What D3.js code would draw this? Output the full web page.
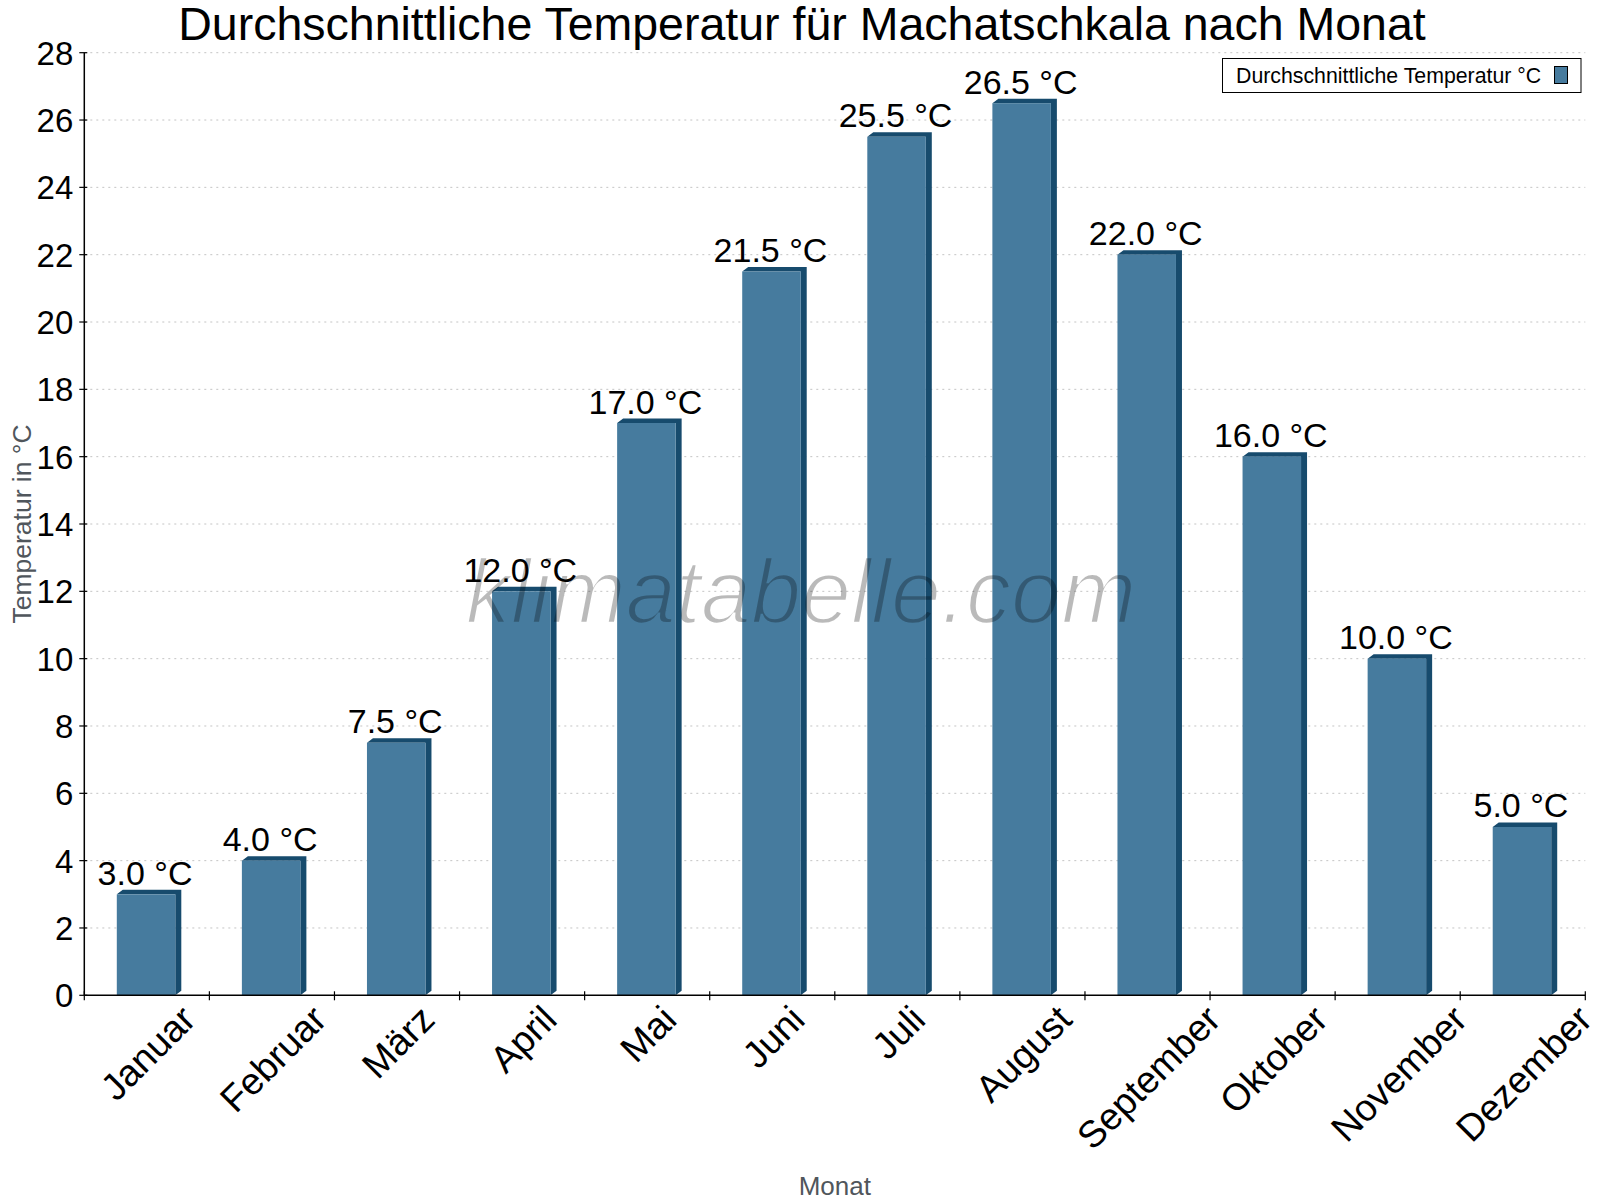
<!DOCTYPE html>
<html>
<head>
<meta charset="utf-8">
<script src="https://cdn.jsdelivr.net/npm/d3@7"></script>
<style>
  body { margin: 0; background: #fff; }
  text { font-family: "Liberation Sans", Arial, sans-serif; }
</style>
</head>
<body>
<svg id="chart"></svg>
<script>
//chart data
const months = ["Januar", "Februar", "März", "April", "Mai", "Juni", "Juli", "August", "September", "Oktober", "November", "Dezember"];
const temps = [3.0, 4.0, 7.5, 12.0, 17.0, 21.5, 25.5, 26.5, 22.0, 16.0, 10.0, 5.0];
const yTicks = [0, 2, 4, 6, 8, 10, 12, 14, 16, 18, 20, 22, 24, 26, 28];

const W = 1600, H = 1200;
const plotL = 84.3, plotR = 1585.3, plotT = 52.7, plotB = 995.3;

const svg = d3.select("#chart").attr("width", W).attr("height", H);

//scales
const x = d3.scaleBand().domain(months).range([plotL, plotR]);
const y = d3.scaleLinear().domain([0, 28]).range([plotB, plotT]);

//grid lines
svg.append("g")
    .selectAll("line")
    .data(yTicks.filter(d => d > 0))
    .join("line")
    .attr("x1", plotL).attr("x2", plotR)
    .attr("y1", d => y(d)).attr("y2", d => y(d))
    .attr("stroke", "#c4c4c4")
    .attr("stroke-width", 1)
    .attr("stroke-dasharray", "2,4");

//3d bars
const front = "#467b9e", dark = "#174b6d";
const bw = 58.5, dx = 6, dy = 4.5, off = 32.5;

const bars = svg.append("g").selectAll("g")
    .data(months.map((m, i) => ({ m, v: temps[i] })))
    .join("g");

bars.append("path")
    .attr("fill", dark)
    .attr("d", d => {
        const x0 = x(d.m) + off, x1 = x0 + bw, yt = y(d.v), yb = y(0);
        return `M${x1},${yt}L${x1 + dx},${yt - dy}L${x1 + dx},${yb - dy}L${x1},${yb}Z` +
               `M${x0},${yt}L${x0 + dx},${yt - dy}L${x1 + dx},${yt - dy}L${x1},${yt}Z`;
    });

bars.append("rect")
    .attr("fill", front)
    .attr("x", d => x(d.m) + off)
    .attr("y", d => y(d.v))
    .attr("width", bw)
    .attr("height", d => y(0) - y(d.v));

//value labels
bars.append("text")
    .attr("x", d => x(d.m) + off + bw / 2 - 1)
    .attr("y", d => y(d.v) - dy - 5)
    .attr("text-anchor", "middle")
    .attr("font-size", 34)
    .attr("fill", "#000")
    .text(d => d.v.toFixed(1) + " °C");

//y axis
const yAxis = svg.append("g");
yAxis.append("line")
    .attr("x1", plotL).attr("x2", plotL).attr("y1", plotT).attr("y2", plotB)
    .attr("stroke", "#000").attr("stroke-width", 1.5);
yAxis.selectAll(".tk")
    .data(yTicks)
    .join("line")
    .attr("x1", plotL - 5).attr("x2", plotL + 3)
    .attr("y1", d => y(d)).attr("y2", d => y(d))
    .attr("stroke", "#000").attr("stroke-width", 1.2);
yAxis.selectAll("text")
    .data(yTicks)
    .join("text")
    .attr("x", plotL - 11)
    .attr("y", d => y(d))
    .attr("dy", "0.36em")
    .attr("text-anchor", "end")
    .attr("font-size", 33)
    .text(d => d);

//x axis
const xAxis = svg.append("g");
xAxis.append("line")
    .attr("x1", plotL).attr("x2", plotR).attr("y1", plotB).attr("y2", plotB)
    .attr("stroke", "#000").attr("stroke-width", 1.5);
xAxis.selectAll(".tk")
    .data(d3.range(months.length + 1))
    .join("line")
    .attr("x1", i => plotL + i * x.bandwidth())
    .attr("x2", i => plotL + i * x.bandwidth())
    .attr("y1", plotB - 4).attr("y2", plotB + 5)
    .attr("stroke", "#000").attr("stroke-width", 1.2);

const xl = xAxis.selectAll(".lbl")
    .data(months)
    .join("text")
    .attr("class", "lbl")
    .attr("text-anchor", "middle")
    .attr("dominant-baseline", "central")
    .attr("font-size", 37.5)
    .text(d => d);
xl.each(function (d) {
    const len = this.getComputedTextLength();
    const cy = 1003 + (len + 27) * Math.SQRT1_2 / 2;
    d3.select(this).attr("transform", `translate(${x(d) + x.bandwidth() / 2 + 1},${cy}) rotate(-45)`);
});

//axis titles
svg.append("text")
    .attr("x", (plotL + plotR) / 2)
    .attr("y", 1195)
    .attr("text-anchor", "middle")
    .attr("font-size", 26)
    .attr("fill", "#50565c")
    .text("Monat");

svg.append("text")
    .attr("transform", `translate(31,${(plotT + plotB) / 2}) rotate(-90)`)
    .attr("text-anchor", "middle")
    .attr("font-size", 26.5)
    .attr("fill", "#50565c")
    .text("Temperatur in °C");

//title
svg.append("text")
    .attr("x", 802)
    .attr("y", 40)
    .attr("text-anchor", "middle")
    .attr("font-size", 46.5)
    .attr("fill", "#000")
    .text("Durchschnittliche Temperatur für Machatschkala nach Monat");

//legend
const lg = svg.append("g");
lg.append("rect")
    .attr("x", 1222.5).attr("y", 58.5).attr("width", 358.5).attr("height", 34)
    .attr("fill", "#fff").attr("stroke", "#000").attr("stroke-width", 1);
lg.append("text")
    .attr("x", 1236).attr("y", 82.5)
    .attr("font-size", 21.3)
    .text("Durchschnittliche Temperatur °C");
lg.append("rect")
    .attr("x", 1554.5).attr("y", 66.5).attr("width", 13).attr("height", 17)
    .attr("fill", front).attr("stroke", "#000").attr("stroke-width", 1);

//watermark (thin look: glyphs eroded through a mask)
const wm = { x: 801, y: 623, size: 90, text: "klimatabelle.com" };
const mask = svg.append("defs").append("mask").attr("id", "wm-mask")
    .attr("maskUnits", "userSpaceOnUse")
    .attr("x", 0).attr("y", 0).attr("width", W).attr("height", H);
mask.append("text")
    .attr("x", wm.x).attr("y", wm.y)
    .attr("text-anchor", "middle")
    .attr("font-family", "Roboto, sans-serif")
    .attr("font-style", "italic")
    .attr("font-size", wm.size)
    .attr("fill", "#fff")
    .attr("stroke", "#000")
    .attr("stroke-width", 2.6)
    .text(wm.text);
svg.append("text")
    .attr("x", wm.x).attr("y", wm.y)
    .attr("text-anchor", "middle")
    .attr("font-family", "Roboto, sans-serif")
    .attr("font-style", "italic")
    .attr("font-size", wm.size)
    .attr("fill", "#000")
    .attr("fill-opacity", 0.27)
    .attr("mask", "url(#wm-mask)")
    .text(wm.text);
</script>
</body>
</html>
